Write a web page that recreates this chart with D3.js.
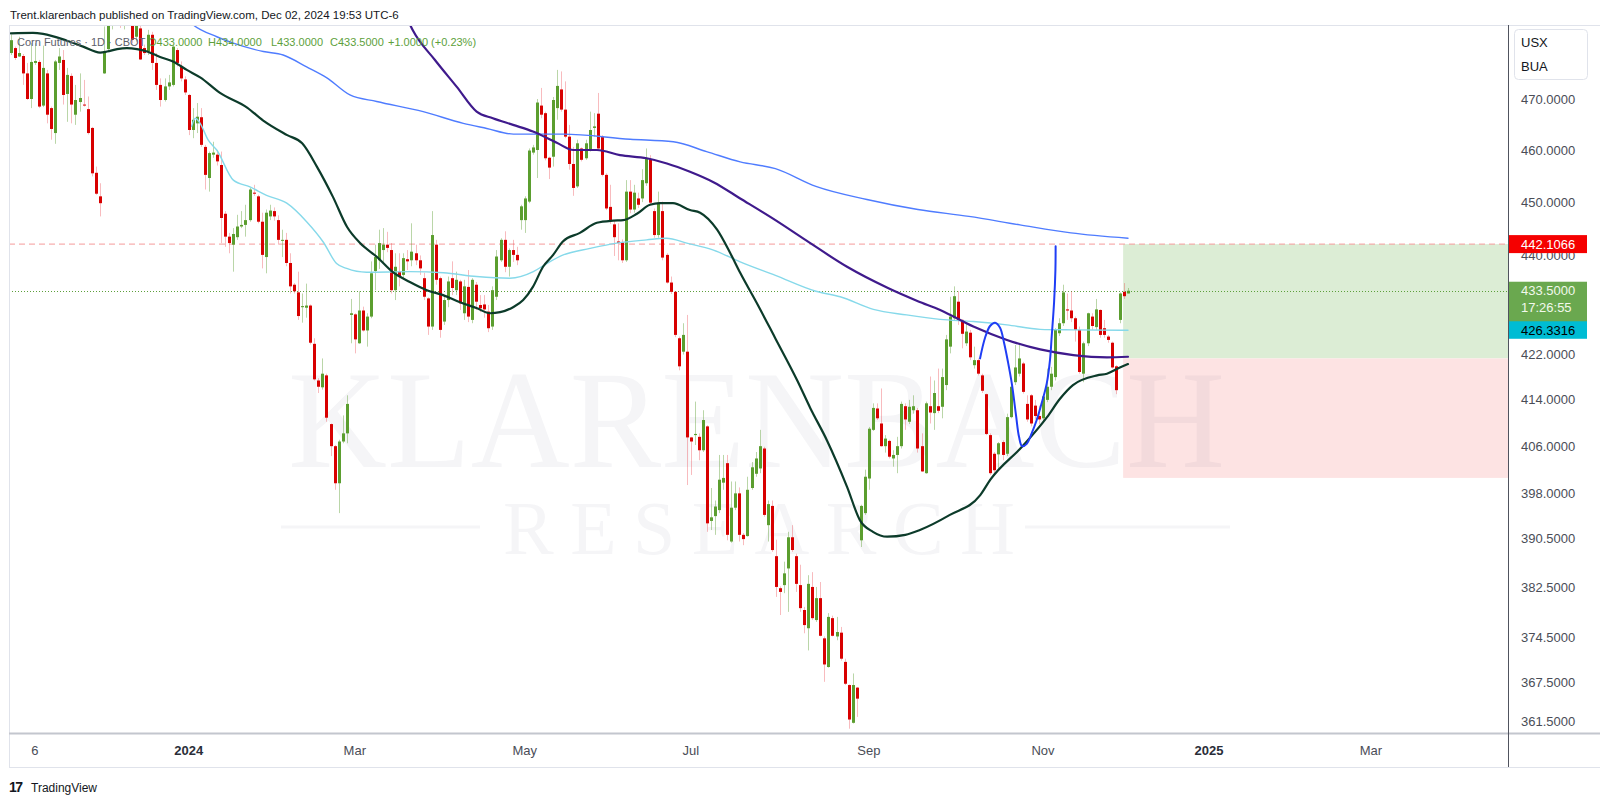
<!DOCTYPE html>
<html><head><meta charset="utf-8">
<script src="https://cdn.jsdelivr.net/npm/d3@7"></script>
<style>
html,body{margin:0;padding:0;background:#fff;}
svg{display:block;font-family:"Liberation Sans",Arial,sans-serif;}
</style></head>
<body>
<svg id="c" width="1600" height="803"></svg>
<script>
// ---------- DATA (daily bars, Corn Futures continuous, bar index 0 = 27 Oct 2023) ----------
const open=[479.2,480.2,478.5,478.6,475.1,470.0,477.2,477.4,468.7,475.1,468.2,463.3,477.2,477.8,471.0,474.6,466.9,469.4,468.9,468.0,464.3,455.6,451.1,475.1,480.0,488.0,490.0,489.0,486.0,489.0,488.0,482.5,484.2,480.2,479.5,482.9,477.2,472.8,469.8,472.5,472.8,479.8,476.5,473.9,470.8,463.9,465.2,466.4,460.6,454.6,459.1,459.1,457.1,447.8,443.5,442.0,443.4,445.4,445.7,446.6,451.8,451.1,446.3,439.7,447.3,448.3,446.6,442.8,442.9,438.6,434.6,433.2,430.5,430.4,430.8,423.9,417.4,416.2,418.3,409.8,406.0,399.7,406.8,408.2,429.1,429.2,424.0,429.9,426.3,428.8,437.1,439.1,441.0,442.0,441.0,433.6,437.0,436.4,439.3,439.1,440.4,439.1,435.8,432.1,427.0,442.0,435.8,427.9,431.8,435.8,433.6,435.2,429.4,434.2,428.2,434.6,430.9,431.0,429.7,427.0,432.4,439.1,442.9,437.9,441.0,440.1,446.6,446.6,450.1,459.5,460.0,468.7,467.2,458.5,458.7,468.2,471.9,467.9,462.6,457.3,453.0,460.3,458.4,460.0,464.3,467.1,462.6,455.2,449.1,445.8,442.6,442.4,439.1,452.0,448.6,450.7,450.7,453.6,458.1,448.3,443.8,448.3,440.1,435.0,433.3,424.9,422.5,422.5,407.5,407.9,407.6,405.3,409.4,393.4,394.2,395.2,399.8,403.1,390.0,395.6,398.0,391.1,390.9,398.9,401.3,402.2,405.6,392.7,395.9,387.6,382.4,382.9,385.6,390.7,387.6,382.9,378.9,376.0,382.6,377.3,380.8,374.4,369.9,377.6,374.7,375.3,370.7,367.1,361.3,366.7,390.2,394.7,400.5,408.8,412.5,409.9,406.0,406.9,403.9,404.5,406.0,412.9,410.2,412.2,412.2,406.0,401.4,412.9,411.7,412.9,412.8,416.6,423.4,428.5,431.5,428.2,424.0,425.9,420.1,421.0,418.3,415.0,407.9,404.7,404.6,406.7,404.7,411.0,417.1,418.6,420.4,413.3,414.8,413.0,411.2,410.8,414.0,416.3,418.0,425.8,427.6,430.1,429.9,428.5,426.4,418.6,424.0,428.8,426.9,430.0,426.7,425.2,424.1,419.9,428.2,433.3,433.0];
const high=[482.9,480.5,482.5,479.0,477.2,481.2,481.2,477.8,480.7,475.8,468.5,477.8,480.2,479.8,476.2,475.1,472.8,475.1,473.8,470.5,464.5,456.8,453.6,484.6,489.0,493.0,494.0,492.0,491.0,493.0,491.0,487.0,485.5,480.9,483.9,483.5,479.2,474.1,474.1,474.8,480.8,480.2,477.5,474.5,471.0,468.2,469.2,468.2,461.0,459.7,461.6,460.0,459.7,448.3,444.2,445.1,447.6,448.3,449.5,452.7,453.3,451.4,448.0,448.6,449.5,449.0,447.5,444.8,444.2,440.4,434.9,437.0,433.0,434.8,431.0,424.9,417.8,421.3,418.6,409.9,406.2,407.1,411.3,414.8,432.0,429.4,433.4,430.6,429.4,438.9,442.0,444.8,445.1,444.4,442.3,440.4,440.4,440.4,441.0,446.0,442.0,440.0,436.8,432.3,448.3,442.9,436.1,432.7,436.1,438.9,437.0,435.5,435.5,437.3,435.8,435.1,432.7,432.7,430.9,434.3,441.0,443.2,444.5,441.3,442.9,441.6,449.5,451.1,460.3,461.0,470.0,472.2,467.5,458.7,470.4,475.8,475.5,473.5,464.9,460.6,462.0,460.5,462.0,467.5,467.2,471.2,462.9,455.5,453.3,446.6,446.0,443.0,454.2,454.2,453.3,451.8,456.3,460.3,459.0,448.8,452.0,450.1,440.4,436.1,433.4,425.2,427.6,429.1,407.6,413.7,408.2,412.2,409.6,398.9,396.8,404.5,404.5,404.5,400.0,400.0,399.0,391.4,400.8,403.3,405.0,408.8,405.9,396.8,396.8,390.3,382.7,386.7,391.6,392.7,388.0,386.2,379.4,384.5,385.0,382.6,383.4,374.7,378.4,378.0,377.8,376.2,371.2,367.2,368.9,366.8,396.1,402.0,409.3,413.4,413.4,416.0,407.9,407.1,405.3,407.6,413.7,413.4,414.0,414.8,412.6,408.2,413.7,418.1,417.4,419.5,419.5,425.5,432.4,434.3,433.4,428.3,427.6,426.4,423.4,421.3,418.6,415.1,408.2,405.0,406.7,407.0,411.6,417.4,423.7,423.7,420.7,414.8,415.0,414.0,413.0,414.8,419.5,419.8,426.7,428.5,434.6,433.0,433.4,428.8,427.0,424.3,429.5,429.4,432.0,430.1,428.2,425.5,424.3,420.1,433.2,434.9,434.0];
const low=[478.8,477.8,478.4,472.8,469.8,468.2,476.8,468.2,468.4,465.2,462.0,461.2,475.8,468.9,465.5,465.2,464.9,467.5,468.5,463.0,454.9,451.4,447.3,475.0,479.5,484.0,485.0,484.3,484.0,485.0,481.2,481.5,477.8,478.8,478.8,475.8,471.8,468.5,469.5,471.8,472.5,476.5,473.5,470.8,462.9,462.3,463.3,460.6,452.4,452.0,458.5,457.0,442.3,441.6,440.4,437.0,442.9,445.1,443.5,446.3,451.2,446.0,437.6,436.7,446.6,446.5,442.0,439.7,438.0,433.0,433.0,428.2,427.7,428.6,423.8,417.4,415.2,415.8,410.2,404.3,398.6,394.7,406.5,406.5,424.0,422.2,423.9,426.1,423.4,428.5,433.6,437.5,438.8,440.6,433.0,431.8,434.3,435.5,437.3,438.0,438.2,436.4,431.8,425.5,426.4,434.6,425.0,427.3,430.5,432.7,432.7,430.0,428.2,427.8,427.6,430.0,429.6,428.6,426.0,426.4,431.8,438.8,436.9,436.1,438.8,438.2,444.8,444.2,449.8,459.1,454.6,466.2,458.0,454.4,456.8,465.9,467.5,462.3,456.2,451.2,452.7,457.8,458.1,459.7,462.6,460.0,454.9,448.5,445.9,439.9,439.1,438.6,438.8,447.9,448.0,448.9,450.0,453.1,449.5,443.3,443.3,439.1,434.8,432.9,425.1,419.2,422.0,399.4,401.1,406.2,403.6,405.0,391.6,391.9,391.1,394.7,398.6,390.2,389.8,395.2,390.0,389.4,390.8,398.6,400.8,401.4,394.1,390.0,388.3,381.0,378.1,381.6,378.6,388.3,381.8,378.6,375.2,372.5,377.3,377.0,374.7,367.6,369.8,374.7,374.1,370.9,367.1,360.4,361.2,362.2,389.1,394.4,398.6,408.6,410.5,405.9,404.9,403.9,402.5,401.4,405.6,408.8,409.8,411.6,404.9,401.6,401.3,409.9,408.8,411.7,410.8,415.7,422.2,428.2,427.3,423.1,423.5,421.0,419.5,418.3,415.2,407.9,401.1,400.9,401.9,403.6,404.3,410.8,416.6,418.1,415.1,410.2,409.4,410.6,409.8,410.1,413.6,415.7,417.4,425.3,427.1,428.2,427.8,424.3,418.6,417.1,423.5,426.4,426.4,425.0,425.0,424.1,419.5,415.0,427.6,432.0,433.0];
const close=[481.8,478.2,479.2,475.1,470.0,477.4,477.6,468.5,476.2,466.9,464.1,477.5,478.5,470.8,474.8,468.9,469.8,470.2,468.7,463.3,455.5,451.6,449.8,479.5,487.0,490.0,489.0,486.0,489.0,488.0,481.9,485.5,477.9,479.2,482.9,477.2,472.8,469.8,472.5,473.3,480.5,477.2,474.1,471.3,463.9,465.9,466.5,461.0,455.2,459.4,459.5,457.8,447.0,443.5,442.3,444.0,445.4,445.7,446.6,452.4,451.6,446.3,440.1,448.0,448.4,447.3,442.9,442.9,438.6,434.3,433.4,428.9,430.7,430.8,424.1,417.6,416.3,418.6,410.9,406.0,399.7,406.8,408.2,413.3,429.4,424.7,429.9,426.3,428.8,436.7,439.7,442.3,442.0,441.4,433.6,437.9,436.1,439.5,438.9,440.7,439.1,437.6,432.4,427.0,443.8,435.5,426.4,431.8,435.2,434.0,435.5,431.2,434.3,428.8,435.5,431.5,430.3,430.1,426.7,433.6,439.8,442.9,437.9,441.0,440.1,439.1,449.2,450.7,459.9,460.5,469.3,466.9,458.4,456.6,469.8,472.6,467.9,462.6,457.3,452.7,461.3,458.1,461.3,463.9,464.6,460.3,455.2,448.8,446.5,443.4,442.3,439.1,452.0,448.6,451.8,449.5,454.2,458.4,449.9,443.8,449.9,439.6,435.0,433.3,425.5,419.9,425.5,407.5,406.8,408.1,405.3,410.5,393.0,394.0,395.8,400.3,400.6,391.1,395.6,398.0,391.1,390.4,398.6,402.4,403.9,406.0,394.4,396.2,388.6,382.6,381.8,384.8,390.7,388.6,383.1,379.2,376.5,383.1,377.6,380.8,374.8,370.3,377.8,374.8,375.4,371.2,367.3,361.8,367.1,365.0,395.9,400.8,409.0,412.6,410.8,406.0,407.3,404.2,404.5,406.0,413.3,410.6,412.8,412.9,405.6,401.7,413.4,411.8,415.2,412.1,418.0,424.7,428.8,432.5,428.2,425.7,426.1,421.5,421.0,418.6,415.6,408.1,401.4,401.9,406.5,404.5,411.0,416.3,419.7,421.3,415.4,410.6,409.9,411.2,410.6,414.6,416.3,418.6,426.4,427.6,433.2,429.9,428.5,426.4,418.9,424.0,429.4,427.1,430.1,425.5,425.5,424.6,419.7,415.7,433.0,432.5,433.5];

// moving averages / anchored VWAP (bar index, value)
const ma1Bar=[0,5.5,8,13.9,17.9,22.1,23.8,26.3,28.7,31.2,33.7,36.9,40.1,43.5,46.8,51.7,58.4,62.3,68.3,72,75.7,79.6,83.1,86.3,90.5,94.4,98.6,102.8,106.8,111,115.2,118.4,120.9,124.1,126.6,129,131.5,134,136.4,140.6,144.8,148.8,151.3,154.7,157.9,160.4,163.6,167.8,170.3,174.5,177.7,180.2,184.5,188.8,194.3,197.5,201.7,206.6,209.8,213,216.5,221,224.6,232,239.5,242,250.1,256,259.2,262.4,268.4,270.8,274,276];
const ma1Val=[483.2,483.3,483.1,481.7,480.5,479.3,479.5,480.0,480.2,480.0,479.5,478.4,477.5,475.8,474.3,471.2,468.3,465.8,462.9,461.3,456.7,451.0,445.3,442.3,439.7,436.9,435.1,433.6,432.7,431.4,430.3,429.4,429.6,430.5,431.8,434.2,437.9,440.1,442.6,444.2,446.1,446.5,446.6,447.8,449.5,449.8,449.8,448.5,448.0,444.8,440.5,436.8,431.0,425.0,417.4,412.6,406.9,399.1,393.5,391.6,390.8,391.1,391.9,394.4,397.7,400.3,406.1,411.0,414.2,416.6,418.3,418.6,419.7,420.3];
const ma2Bar=[97,99.4,104.8,110.2,115.1,119.1,124.1,129,134.9,139,144.8,150.5,157.1,162.1,167.8,173.6,180.2,188.9,196.5,206.6,216.7,224.1,229.6,237.8,246.1,254.3,262.5,270.8,276];
const ma2Val=[488.0,483.7,477.8,472.4,467.5,466.2,464.9,463.6,461.4,460.0,460.0,459.0,458.4,457.4,455.8,453.8,450.7,446.6,442.8,437.9,434.0,431.6,430.0,427.0,424.6,422.9,421.9,421.5,421.6];
const ma3Bar=[43,45.1,50.9,55,62.4,67.3,73.1,78.1,83.8,90.4,101.9,111.8,117.6,124.2,136.5,153,163.7,171.9,180.2,188.9,198.9,211.5,224.1,236.7,249.3,261.9,276];
const ma3Val=[486.5,484.9,482.5,481.2,479.5,478.8,476.4,474.2,470.8,469.5,467.5,465.2,464.2,463.1,463.1,462.1,461.6,459.7,457.7,456.4,453.0,450.5,448.6,447.3,445.7,444.2,443.2];
const vwapBar=[44.7,45.6,46.8,48.8,50.9,55,59.1,63.2,68.2,73.1,77.2,80.5,83,87.9,98.6,106.9,115.1,123.3,129.1,132.4,136.5,143.1,149.7,157.1,162,167,173.6,180.2,188.9,198.9,204.9,213.1,221.3,229.6,237.8,246.1,254.3,262.5,276];
const vwapVal=[464.6,466.2,465.2,461.9,460.0,454.2,452.9,451.3,449.8,446.3,442.5,438.5,437.6,436.9,437.0,436.8,436.1,435.8,437.0,438.5,440.1,441.3,442.3,442.9,443.2,442.3,441.0,438.8,436.3,433.4,432.4,430.1,429.1,428.3,427.9,427.3,426.5,426.4,426.3316];
// hand-drawn blue curve
const curveBar=[239.45,240.69,241.92,243.16,244.39,245.38,246.37,247.36,248.34,249.08,249.83,250.98,252.2,253.45,254.7,255.93,256.74,257.16,257.74,258.07,258.12];
const curveVal=[421.3,425.0,427.1,427.7,426.8,424.1,420.6,416.6,411.3,407.6,406.0,406.4,408.2,410.5,413.5,416.9,421.1,425.3,431.4,437.3,441.7];
// long-position tool
const posStartBar=274.8, posTarget=442.1066, posEntry=421.3, posStop=400.6;
const lastPrice=433.5, vwapLast=426.3316, countdown="17:26:55";
// axes
const yTicks=[470,460,450,440,422,414,406,398,390.5,382.5,374.5,367.5,361.5];
const xTickLabels=["6","2024","Mar","May","Jul","Sep","Nov","2025","Mar"];
const xTickBars=[6,44,85,127,168,212,255,296,336];
const xTickBold=[false,true,false,false,false,false,false,true,false];

// ---------- LAYOUT ----------
const svg=d3.select("#c");
const P={l:9,r:1508,t:25,b:733,axisB:767};
const x=d3.scaleLinear().domain([0,276]).range([10.7,1128]);
const y=d3.scaleLog().domain([470,361.5]).range([99,721.5]);

svg.append("rect").attr("width",1600).attr("height",803).attr("fill","#fff");
const defs=svg.append("defs");
defs.append("clipPath").attr("id","plot").append("rect")
  .attr("x",P.l).attr("y",P.t).attr("width",P.r-P.l).attr("height",P.b-P.t);
const g=svg.append("g").attr("clip-path","url(#plot)");

// position tool
const px0=x(posStartBar);
g.append("rect").attr("x",px0).attr("width",P.r-px0).attr("y",y(posTarget)).attr("height",y(posEntry)-y(posTarget)).attr("fill","#dcedd5");
g.append("rect").attr("x",px0).attr("width",P.r-px0).attr("y",y(posEntry)).attr("height",y(posStop)-y(posEntry)).attr("fill","#fde3e3");

// watermark (drawn over the position boxes, very faint)
const wm="rgba(20,20,70,0.045)";
g.append("text").attr("x",288).attr("y",467).attr("font-family","'Liberation Serif',serif")
  .attr("font-size",140).attr("textLength",937).attr("lengthAdjust","spacingAndGlyphs")
  .attr("fill",wm).text("KLARENBACH");
g.append("text").attr("x",503).attr("y",554).attr("font-family","'Liberation Serif',serif")
  .attr("font-size",76).attr("textLength",512).attr("lengthAdjust","spacing")
  .attr("fill",wm).text("RESEARCH");
g.append("line").attr("x1",281).attr("x2",480).attr("y1",527).attr("y2",527).attr("stroke",wm).attr("stroke-width",3);
g.append("line").attr("x1",1025).attr("x2",1230).attr("y1",527).attr("y2",527).attr("stroke",wm).attr("stroke-width",3);

// horizontal lines
g.append("line").attr("x1",P.l).attr("x2",P.r).attr("y1",y(posTarget)).attr("y2",y(posTarget))
  .attr("stroke","#f59a9a").attr("stroke-width",1).attr("stroke-dasharray","6,4");
g.append("line").attr("x1",P.l).attr("x2",P.r).attr("y1",Math.round(y(lastPrice))+0.5).attr("y2",Math.round(y(lastPrice))+0.5)
  .attr("stroke","#5d9f3b").attr("stroke-width",1).attr("stroke-dasharray","1,2");

// candles
const bars=d3.range(open.length).map(i=>({i,o:open[i],h:high[i],l:low[i],c:close[i]}));
const up="#5b9e2f", dn="#d80000", upW="rgba(91,158,47,0.42)", dnW="rgba(235,60,70,0.35)";
const cg=g.append("g");
cg.selectAll("line.w").data(bars).join("line").attr("class","w")
  .attr("x1",d=>Math.round(x(d.i))+0.5).attr("x2",d=>Math.round(x(d.i))+0.5)
  .attr("y1",d=>y(d.h)).attr("y2",d=>y(d.l))
  .attr("stroke",d=>d.c>=d.o?upW:dnW).attr("stroke-width",1);
cg.selectAll("rect.b").data(bars).join("rect").attr("class","b")
  .attr("x",d=>Math.round(x(d.i))-1).attr("width",3)
  .attr("y",d=>y(Math.max(d.o,d.c)))
  .attr("height",d=>Math.max(1,Math.abs(y(d.o)-y(d.c))))
  .attr("fill",d=>d.c>=d.o?up:dn);

// lines
function drawLine(bx,vals,color,w){
  const pts=bx.map((b,k)=>[b,vals[k]]);
  g.append("path").datum(pts).attr("fill","none").attr("stroke",color).attr("stroke-width",w)
   .attr("stroke-linejoin","round").attr("stroke-linecap","round")
   .attr("d",d3.line().x(d=>x(d[0])).y(d=>y(d[1])).curve(d3.curveMonotoneX));
}
drawLine(vwapBar,vwapVal,"#86d9ea",1.4);
drawLine(ma3Bar,ma3Val,"#4f7cff",1.4);
drawLine(ma2Bar,ma2Val,"#3f1a8c",2.2);
drawLine(ma1Bar,ma1Val,"#0c3b2a",2.2);
// hand-drawn curve
g.append("path").datum(curveBar.map((b,k)=>[b,curveVal[k]])).attr("fill","none")
  .attr("stroke","#1f3df5").attr("stroke-width",2).attr("stroke-linecap","round")
  .attr("d",d3.line().x(d=>x(d[0])).y(d=>y(d[1])).curve(d3.curveCatmullRom));

// legend texts
svg.append("text").attr("x",10).attr("y",19).attr("font-size",11.5).attr("fill","#131722")
  .text("Trent.klarenbach published on TradingView.com, Dec 02, 2024 19:53 UTC-6");
svg.append("text").attr("x",17).attr("y",45.5).attr("font-size",11).attr("fill","#5d606b")
  .text("Corn Futures · 1D · CBOT");
const ohlc=[["O433.0000",148],["H434.0000",208],["L433.0000",271],["C433.5000",330],["+1.0000 (+0.23%)",388]];
svg.selectAll("text.ohlc").data(ohlc).join("text").attr("class","ohlc")
  .attr("x",d=>d[1]).attr("y",45.5).attr("font-size",11).attr("fill","#5d9f3b").text(d=>d[0]);

// frame
svg.append("line").attr("x1",P.l).attr("x2",1600).attr("y1",P.t+0.5).attr("y2",P.t+0.5).attr("stroke","#e0e3eb");
svg.append("line").attr("x1",P.l+0.5).attr("x2",P.l+0.5).attr("y1",P.t).attr("y2",P.axisB).attr("stroke","#e0e3eb");
svg.append("line").attr("x1",P.l).attr("x2",1600).attr("y1",P.b+0.5).attr("y2",P.b+0.5).attr("stroke","#c3c6ce").attr("stroke-width",2);
svg.append("line").attr("x1",P.l).attr("x2",1600).attr("y1",P.axisB+0.5).attr("y2",P.axisB+0.5).attr("stroke","#e0e3eb");
svg.append("line").attr("x1",P.r+0.5).attr("x2",P.r+0.5).attr("y1",P.t).attr("y2",P.axisB).attr("stroke","#50535e");

// right axis
const ya=svg.append("g");
ya.selectAll("text").data(yTicks).join("text").attr("x",1521).attr("y",d=>y(d)).attr("dy","0.35em")
  .attr("font-size",13).attr("fill","#4a4d57").text(d=>d3.format(".4f")(d));
// USX/BUA box
svg.append("rect").attr("x",1514.5).attr("y",29.5).attr("width",73).attr("height",50).attr("rx",4)
  .attr("fill","#fff").attr("stroke","#e0e3eb");
svg.append("text").attr("x",1521).attr("y",47).attr("font-size",13).attr("fill","#131722").text("USX");
svg.append("text").attr("x",1521).attr("y",71).attr("font-size",13).attr("fill","#131722").text("BUA");
// value labels
function tag(v,h,fill,txtColor,lines){
  const yc=y(v);
  svg.append("rect").attr("x",P.r+1).attr("y",yc-9).attr("width",78).attr("height",h).attr("fill",fill);
  lines.forEach((t,k)=>svg.append("text").attr("x",1521).attr("y",yc+k*16.5).attr("dy","0.35em")
    .attr("font-size",13).attr("fill",txtColor).text(t));
}
tag(posTarget,18,"#f50000","#fff",[d3.format(".4f")(posTarget)]);
tag(lastPrice,40.5,"#6aa84f","#f1f8ec",[d3.format(".4f")(lastPrice),countdown]);
tag(vwapLast,17.5,"#00bcd4","#000",[d3.format(".4f")(vwapLast)]);

// bottom axis
svg.selectAll("text.xt").data(xTickLabels).join("text").attr("class","xt")
  .attr("x",(d,k)=>x(xTickBars[k])).attr("y",755).attr("text-anchor","middle")
  .attr("font-size",13).attr("font-weight",(d,k)=>xTickBold[k]?"bold":"normal")
  .attr("fill",(d,k)=>xTickBold[k]?"#2a2e39":"#4a4d57").text(d=>d);

// TradingView logo
svg.append("text").attr("x",9).attr("y",792).attr("font-size",14).attr("font-weight",900)
  .attr("letter-spacing",-1.5).attr("fill","#131722").text("17");
svg.append("text").attr("x",31).attr("y",792).attr("font-size",12).attr("fill","#131722").text("TradingView");
</script>
</body></html>
